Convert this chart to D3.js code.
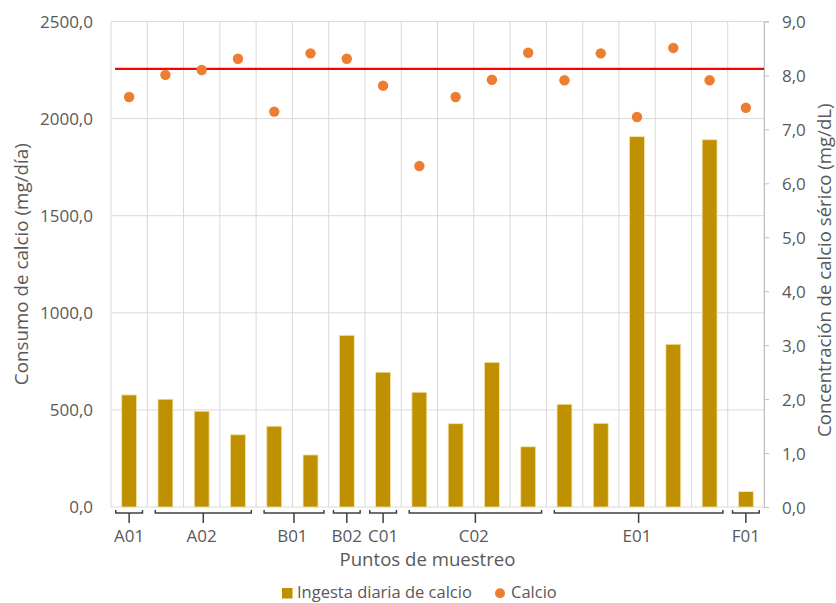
<!DOCTYPE html>
<html>
<head>
<meta charset="utf-8">
<script src="https://cdn.jsdelivr.net/npm/d3@7"></script>
<style>
  html, body { margin: 0; padding: 0; background: #fff; }
  svg { display: block; }
  text { font-family: "Open Sans", sans-serif; fill: #595959; }
</style>
</head>
<body>
<svg id="chart" width="836" height="603"></svg>
<script>
// ---- data ----
const samples = ["1","2","3","4","5","6","7","8","9","10","11","12","13","14","15","16","17","18"];
const ingesta = [577, 555, 493, 372, 416, 268, 884, 694, 591, 429, 745, 310, 529, 431, 1907, 838, 1891, 79];
const calcio  = [7.60, 8.01, 8.10, 8.31, 7.33, 8.41, 8.31, 7.81, 6.32, 7.60, 7.92, 8.42, 7.91, 8.41, 7.23, 8.51, 7.91, 7.40];
const groupNames = ["A01", "A02", "B01", "B02", "C01", "C02", "E01", "F01"];
const groupSizes = [1, 3, 2, 1, 1, 4, 5, 1];
const leftTicks = [0, 500, 1000, 1500, 2000, 2500];
const rightTicks = [0, 1, 2, 3, 4, 5, 6, 7, 8, 9];
const referenceCalcio = 8.12;
const seriesNames = ["Ingesta diaria de calcio", "Calcio"];
const titles = {
  x: "Puntos de muestreo",
  yLeft: "Consumo de calcio (mg/día)",
  yRight: "Concentración de calcio sérico (mg/dL)"
};

// ---- layout ----
const L = 111, R = 764, T = 21.5, B = 507;
const svg = d3.select("#chart");
const fmt = v => d3.format(".1f")(v).replace(".", ",");

const x = d3.scaleBand().domain(samples).range([L, R]).paddingInner(0.59).paddingOuter(0.295);
const yL = d3.scaleLinear().domain([0, 2500]).range([B, T]);
const yR = d3.scaleLinear().domain([0, 9]).range([B, T]);
const step = x.step();

// grid
const grid = svg.append("g");
grid.selectAll("line.h").data(leftTicks).join("line")
  .attr("x1", L).attr("x2", R)
  .attr("y1", d => yL(d)).attr("y2", d => yL(d))
  .attr("stroke", "#d9d9d9").attr("stroke-width", 1);
const bounds = d3.range(samples.length + 1);
grid.selectAll("line.v").data(bounds).join("line")
  .attr("x1", i => L + i * step).attr("x2", i => L + i * step)
  .attr("y1", T).attr("y2", B)
  .attr("stroke", "#d9d9d9").attr("stroke-width", 1);

// bars
svg.append("g").selectAll("rect").data(samples).join("rect")
  .attr("x", d => x(d))
  .attr("width", x.bandwidth())
  .attr("y", (d, i) => yL(ingesta[i]))
  .attr("height", (d, i) => B - yL(ingesta[i]))
  .attr("fill", "#bf9000")
  .attr("stroke", "#f3e3a8").attr("stroke-width", 0.8);

// reference line
svg.append("line")
  .attr("x1", L + 4).attr("x2", R)
  .attr("y1", yR(referenceCalcio)).attr("y2", yR(referenceCalcio))
  .attr("stroke", "#ff0000").attr("stroke-width", 2.2);

// dots
svg.append("g").selectAll("circle").data(samples).join("circle")
  .attr("cx", d => x(d) + x.bandwidth() / 2)
  .attr("cy", (d, i) => yR(calcio[i]))
  .attr("r", 5.2)
  .attr("fill", "#ed7d31");

// left axis labels
svg.append("g").selectAll("text").data(leftTicks).join("text")
  .attr("x", 93).attr("y", d => yL(d) + 6)
  .attr("text-anchor", "end")
  .attr("font-size", 17)
  .text(fmt);

// right axis
const ra = svg.append("g").attr("transform", `translate(${R},0)`)
  .call(d3.axisRight(yR).tickValues(rightTicks).tickSize(5).tickPadding(13).tickFormat(fmt));
ra.select(".domain").attr("stroke", "#bfbfbf").attr("stroke-width", 1);
ra.selectAll(".tick line").attr("stroke", "#bfbfbf");
ra.selectAll(".tick text").attr("font-size", 17).attr("fill", "#595959")
  .attr("font-family", "Open Sans, sans-serif").attr("dy", "0.38em");

// group brackets
const starts = groupSizes.map((s, i) => d3.sum(groupSizes.slice(0, i)));
const brackets = svg.append("g").attr("stroke", "#404040").attr("stroke-width", 1.5).attr("fill", "none");
const by = 513;
groupNames.forEach((g, i) => {
  const x0 = L + starts[i] * step + (groupSizes[i] > 1 ? 8 : 4.8);
  const x1 = L + (starts[i] + groupSizes[i]) * step - 4.8;
  const cx = L + (starts[i] + groupSizes[i] / 2) * step;
  brackets.append("path")
    .attr("d", `M${x0},${by - 3}V${by}H${x1}V${by - 3}M${(x0 + x1) / 2},${by}V${by + 10}`);
  svg.append("text")
    .attr("x", cx).attr("y", 542)
    .attr("text-anchor", "middle")
    .attr("font-size", 17)
    .text(g);
});

// axis titles
svg.append("text")
  .attr("x", (L + R) / 2 - 10).attr("y", 566)
  .attr("text-anchor", "middle").attr("font-size", 18.6)
  .text(titles.x);
svg.append("text")
  .attr("transform", `translate(28,${(T + B) / 2}) rotate(-90)`)
  .attr("text-anchor", "middle").attr("font-size", 18.8)
  .text(titles.yLeft);
svg.append("text")
  .attr("transform", `translate(831,${(T + B) / 2 + 6}) rotate(-90)`)
  .attr("text-anchor", "middle").attr("font-size", 18.6)
  .text(titles.yRight);

// legend
const lg = svg.append("g");
lg.append("rect").attr("x", 282).attr("y", 588).attr("width", 10.5).attr("height", 10.5).attr("fill", "#bf9000");
lg.append("text").attr("x", 297).attr("y", 598).attr("font-size", 16.5).text(seriesNames[0]);
lg.append("circle").attr("cx", 500).attr("cy", 593.3).attr("r", 5).attr("fill", "#ed7d31");
lg.append("text").attr("x", 511).attr("y", 598).attr("font-size", 16.5).text(seriesNames[1]);
</script>
</body>
</html>
